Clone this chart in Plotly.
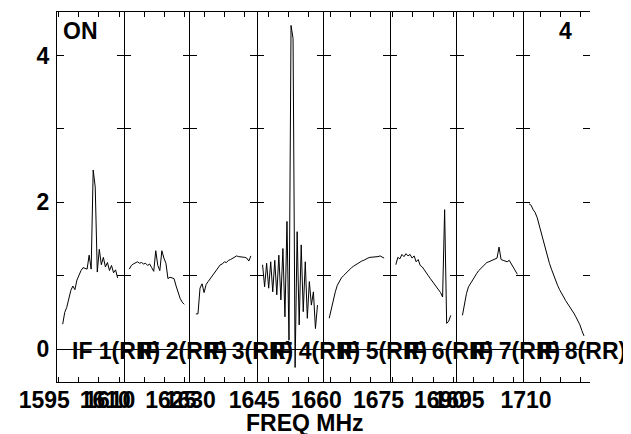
import numpy as np
import plotly.graph_objects as go
from plotly.subplots import make_subplots

# ---------------- data ----------------
IF_NAMES = ["IF 1(RR)", "IF 2(RR)", "IF 3(RR)", "IF 4(RR)",
            "IF 5(RR)", "IF 6(RR)", "IF 7(RR)", "IF 8(RR)"]
# lower edge of each IF panel (MHz) and panel width
IF_RANGE_START = [1594.68, 1609.95, 1626.56, 1642.2, 1658.35, 1674.4, 1691.0, 1705.9]
IF_RANGE_WIDTH = 16.38
CHAN_FIRST_OFFSET = 1.4   # MHz from panel edge to first plotted channel
CHAN_STEP = 0.5           # MHz per channel

IF1 = [0.34, 0.50, 0.57, 0.68, 0.80, 0.86, 0.81, 0.94, 1.01, 1.07, 1.11, 1.10, 1.09, 1.28,
       1.09, 2.44, 2.21, 1.05, 1.36, 1.15, 1.25, 1.12, 1.18, 1.07, 1.14, 1.04, 1.08, 0.97]
IF2 = [1.09, 1.14, 1.16, 1.18, 1.19, 1.17, 1.18, 1.16, 1.17, 1.14, 1.16, 1.11, 1.06, 1.34,
       1.14, 1.07, 1.34, 1.24, 1.17, 0.96, 0.98, 0.97, 0.96, 0.86, 0.76, 0.69, 0.64, 0.61]
IF3 = [0.48, 0.48, 0.83, 0.89, 0.77, 0.88, 0.92, 0.96, 1.00, 1.03, 1.07, 1.11, 1.15, 1.16,
       1.19, 1.18, 1.21, 1.22, 1.24, 1.25, 1.27, 1.26, 1.26, 1.26, 1.25, 1.24, 1.20, 1.27]
IF4 = [1.15, 0.85, 1.17, 0.83, 1.19, 0.78, 1.21, 0.74, 1.28, 0.67, 1.37, 0.44, 1.74, 0.12,
       4.41, 4.23, -0.25, 1.60, 0.33, 1.42, 0.51, 1.19, 0.42, 0.92, 0.60, 0.78, 0.28, 0.60]
IF5 = [0.42, 0.55, 0.68, 0.78, 0.87, 0.93, 0.97, 1.00, 1.03, 1.06, 1.08, 1.11, 1.13, 1.15,
       1.17, 1.18, 1.20, 1.21, 1.23, 1.24, 1.25, 1.25, 1.26, 1.26, 1.26, 1.27, 1.26, 1.24]
IF6 = [1.15, 1.25, 1.23, 1.29, 1.26, 1.30, 1.27, 1.29, 1.24, 1.27, 1.19, 1.22, 1.14, 1.12,
       1.08, 1.03, 1.00, 0.96, 0.92, 0.88, 0.84, 0.80, 0.77, 0.71, 1.90, 0.35, 0.38, 0.46]
IF7 = [0.46, 0.62, 0.76, 0.85, 0.90, 0.94, 0.99, 1.03, 1.07, 1.10, 1.13, 1.16, 1.18, 1.19,
       1.20, 1.22, 1.23, 1.24, 1.39, 1.22, 1.21, 1.20, 1.19, 1.21, 1.16, 1.11, 1.05, 1.02]
IF8 = [1.98, 1.96, 1.90, 1.86, 1.79, 1.68, 1.58, 1.46, 1.36, 1.27, 1.17, 1.09, 1.01, 0.94,
       0.87, 0.81, 0.75, 0.71, 0.66, 0.62, 0.58, 0.53, 0.49, 0.44, 0.39, 0.33, 0.25, 0.18]
SERIES = [IF1, IF2, IF3, IF4, IF5, IF6, IF7, IF8]

X_TICK_LABELS = [[1595, 1610], [1610, 1625], [1630], [1645], [1660], [1675, 1690], [1695], [1710]]
X_TICK_STEP = 5
Y_TICK_VALUES = [0, 1, 2, 3, 4]
Y_TICK_LABELS = ["0", "", "2", "", "4"]
Y_RANGE = [-0.448, 4.593]
X_TITLE = "FREQ MHz"
CORNER_LEFT = "ON"
CORNER_RIGHT = "4"

FONT = "Liberation Sans, Arial, sans-serif"
FS = 23

fig = make_subplots(rows=1, cols=8, shared_yaxes=True, horizontal_spacing=0)

for n, vals in enumerate(SERIES):
    f0 = IF_RANGE_START[n]
    f1 = f0 + IF_RANGE_WIDTH
    freqs = [f0 + CHAN_FIRST_OFFSET + CHAN_STEP * i for i in range(len(vals))]
    fig.add_trace(go.Scatter(x=freqs, y=vals, mode="lines",
                             line=dict(color="black", width=1),
                             showlegend=False, hoverinfo="skip"),
                  row=1, col=n + 1)
    tv = [float(t) for t in range(int(np.ceil(f0 / X_TICK_STEP)) * X_TICK_STEP,
                                   int(f1) + 1, X_TICK_STEP) if f0 <= t <= f1]
    tt = [str(int(t)) if int(t) in X_TICK_LABELS[n] else "" for t in tv]
    fig.update_xaxes(range=[f0, f1], tickmode="array", tickvals=tv, ticktext=tt,
                     ticks="inside", ticklen=5, tickwidth=1, tickcolor="black",
                     showline=True, linecolor="black", linewidth=1, mirror="ticks",
                     showgrid=False, zeroline=False, automargin=False,
                     ticklabelshift=-14, ticklabelstandoff=-3,
                     tickfont=dict(family=FONT, size=FS, color="black", weight="bold"),
                     row=1, col=n + 1)
    # only every other panel draws its side lines, so shared borders are single lines
    fig.update_yaxes(range=Y_RANGE, tickmode="array", tickvals=Y_TICK_VALUES,
                     ticktext=Y_TICK_LABELS,
                     ticks="inside", ticklen=7, tickwidth=1, tickcolor="black",
                     showline=(n % 2 == 0), linecolor="black", linewidth=1, mirror="ticks",
                     showgrid=False, zeroline=True, zerolinecolor="black", zerolinewidth=1,
                     ticklabelstandoff=2, automargin=False,
                     tickfont=dict(family=FONT, size=FS, color="black", weight="bold"),
                     row=1, col=n + 1)
    axsuf = "" if n == 0 else str(n + 1)
    fig.add_annotation(text=IF_NAMES[n], xref=f"x{axsuf} domain", yref=f"y{axsuf}",
                       x=0, y=0, xanchor="left", yanchor="middle", xshift=13, yshift=-2,
                       showarrow=False,
                       font=dict(family=FONT, size=FS, color="black", weight="bold"))

# right-hand frame line of the last panel
fig.update_layout(yaxis9=dict(overlaying="y8", anchor="x8", side="right", matches="y",
                              range=Y_RANGE, showline=True, linecolor="black", linewidth=1,
                              ticks="", showticklabels=False, showgrid=False,
                              zeroline=False))

fig.add_annotation(text=CORNER_LEFT, xref="paper", yref="paper", x=0.008, y=0.949,
                   xanchor="left", yanchor="middle", showarrow=False,
                   font=dict(family=FONT, size=FS, color="black", weight="bold"))
fig.add_annotation(text=CORNER_RIGHT, xref="paper", yref="paper", x=0.970, y=0.949,
                   xanchor="right", yanchor="middle", showarrow=False,
                   font=dict(family=FONT, size=FS, color="black", weight="bold"))
fig.add_annotation(text=X_TITLE, xref="paper", yref="paper", x=0.465, y=-0.111,
                   xanchor="center", yanchor="middle", showarrow=False,
                   font=dict(family=FONT, size=FS, color="black", weight="bold"))

# page body has an 8px default margin, so the figure is placed at (8, 8)
fig.update_layout(width=623, height=426, margin=dict(l=49, r=41, t=4, b=52),
                  paper_bgcolor="white", plot_bgcolor="white", showlegend=False)

fig.write_html("out.html")
